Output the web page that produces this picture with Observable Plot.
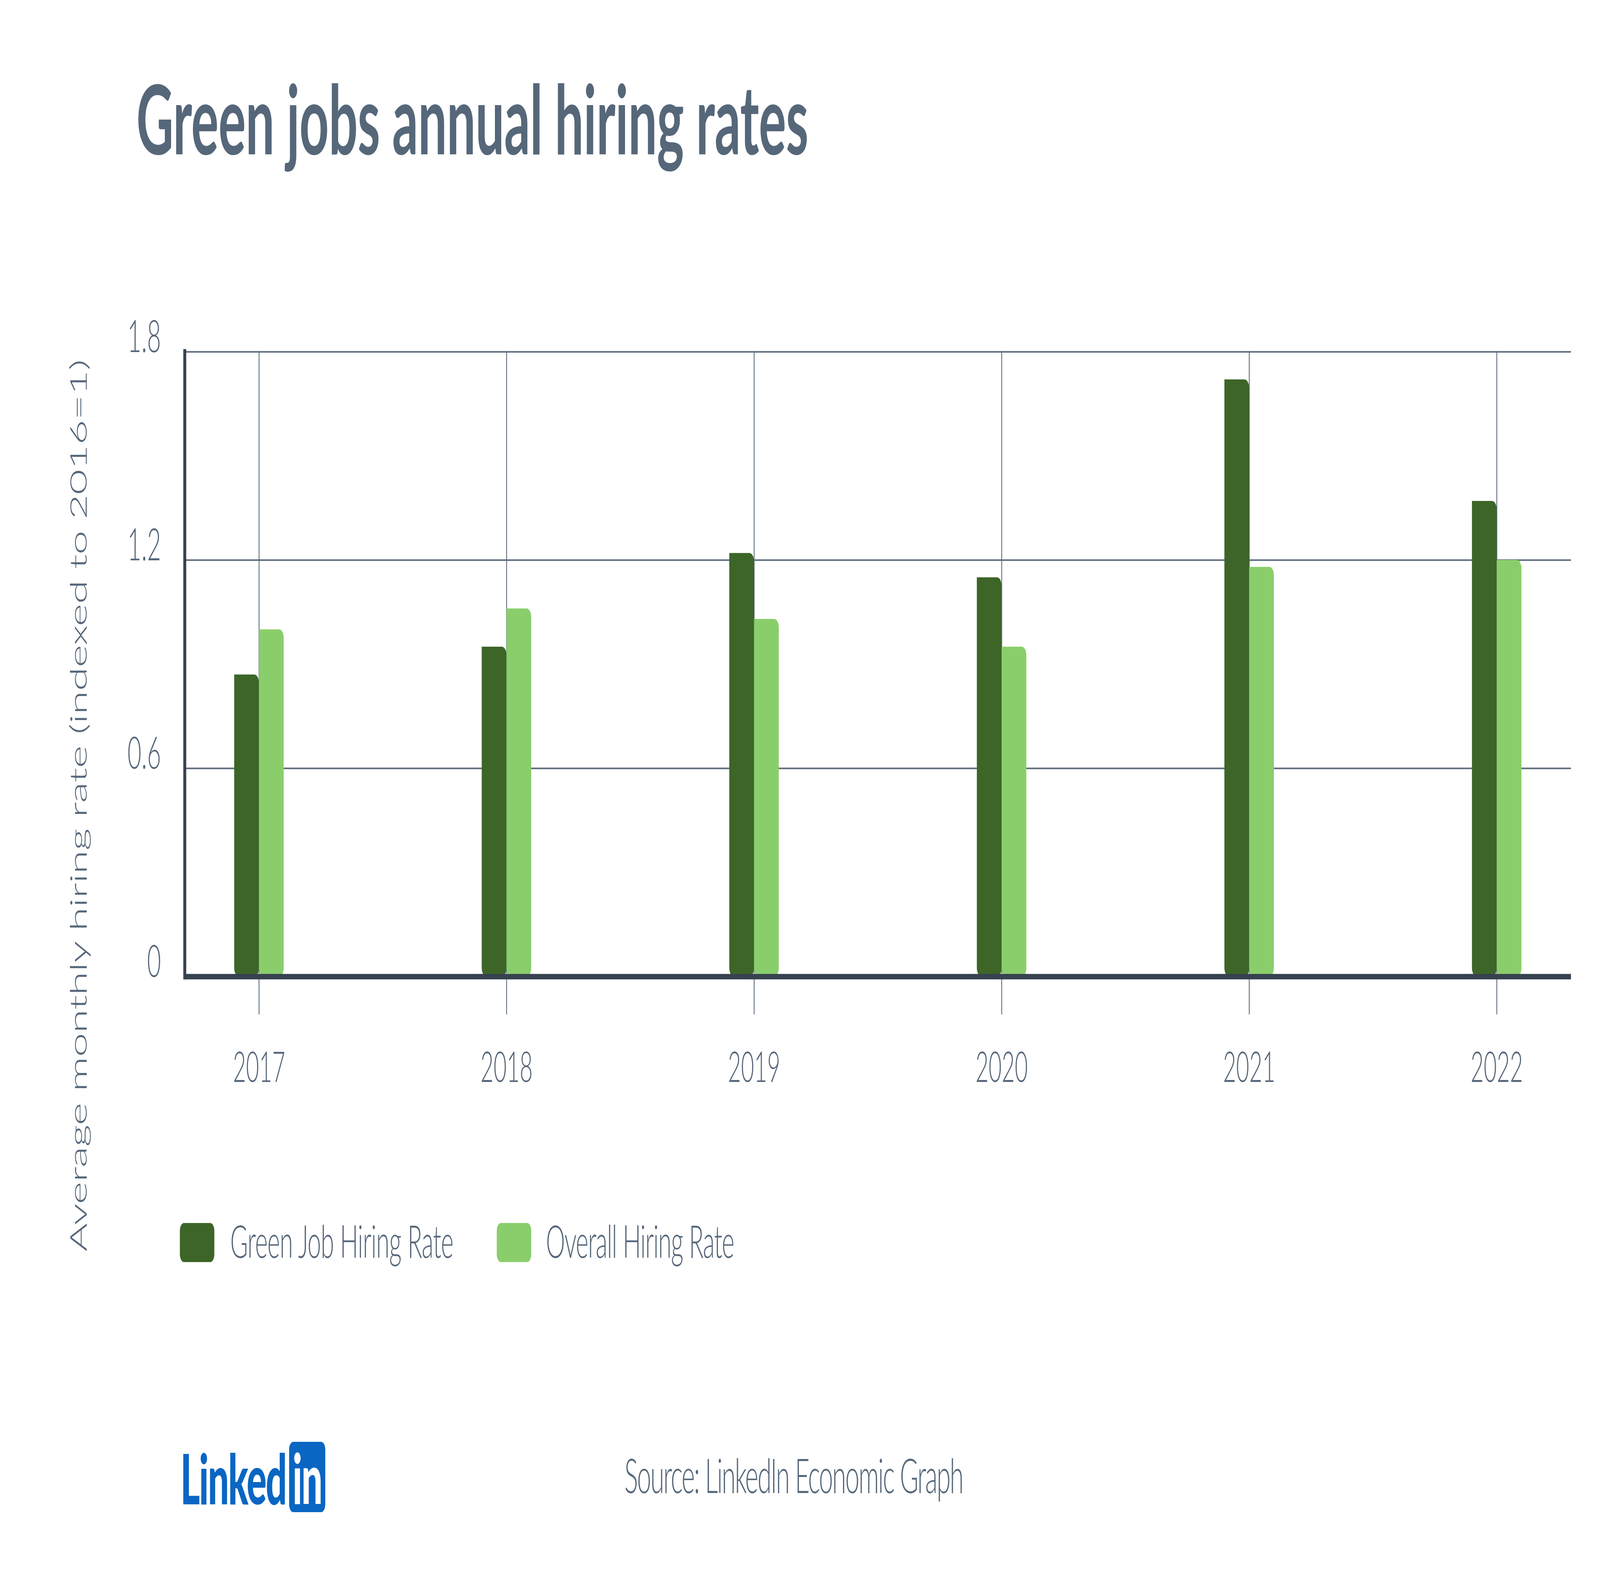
<!DOCTYPE html>
<html><head><meta charset="utf-8">
<script src="https://cdn.jsdelivr.net/npm/d3@7"></script>
<script src="https://cdn.jsdelivr.net/npm/@observablehq/plot@0.6"></script>
<style>
html,body{margin:0;padding:0;background:#fff;overflow:hidden;}
#page{position:absolute;left:0;top:0;width:7659px;height:4059px;overflow:hidden;font-family:Lato,"Noto Sans",sans-serif;color:#56677a;background:#fff;transform-origin:0 0;}
.abs{position:absolute;white-space:nowrap;line-height:1;}
#chart{position:absolute;left:0;top:800px;}
</style></head><body><div id="page">
<div class="abs" id="title" style="left:653px;top:178px;font-size:245px;font-weight:700;"></div>
<div class="abs" id="ytitle" style="left:372px;top:2062px;font-size:112px;font-weight:300;transform:translate(-50%,-50%) rotate(-90deg);"></div>
<div id="chart"></div>
<div id="legend"></div>
<div class="abs" id="logo" style="left:864px;top:3690px;"></div>
<div class="abs" id="source" style="left:2989px;top:3713px;font-size:122px;font-weight:300;"></div>
</div>
<script>
const titleText = "Green jobs annual hiring rates";
const years = ["2017", "2018", "2019", "2020", "2021", "2022"];
const greenRate = [0.87, 0.95, 1.22, 1.15, 1.72, 1.37];
const overallRate = [1.00, 1.06, 1.03, 0.95, 1.18, 1.20];
const seriesNames = ["Green Job Hiring Rate", "Overall Hiring Rate"];
const seriesColors = ["#3d6528", "#8ace6b"];
const yTicks = [0, 0.6, 1.2, 1.8];
const yTitle = "Average monthly hiring rate (indexed to 2016=1)";
const sourceText = "Source: LinkedIn Economic Graph";

const gridColor = "#5b6b7d";
const axisColor = "#374250";
const textColor = "#56677a";

const greenRows = years.map((year, i) => ({year, value: greenRate[i]}));
const overallRows = years.map((year, i) => ({year, value: overallRate[i]}));

document.getElementById("title").textContent = titleText;
document.getElementById("ytitle").textContent = yTitle;
document.getElementById("source").textContent = sourceText;

const chart = Plot.plot({
  width: 7659,
  height: 2100,
  marginTop: 100,
  marginBottom: 401,
  marginLeft: 884,
  marginRight: 139,
  style: {background: "transparent", fontFamily: "Lato, 'Noto Sans', sans-serif", color: textColor, overflow: "visible"},
  x: {type: "band", domain: years, paddingInner: 0.8, paddingOuter: 0.2, label: null},
  y: {domain: [0, 1.8], axis: null, label: null},
  marks: [
    Plot.ruleY(yTicks.filter(d => d > 0), {y: d => d, stroke: gridColor, strokeWidth: 4}),
    Plot.ruleX(years, {x: d => d, y1: 0, y2: 1.8, stroke: gridColor, strokeWidth: 4}),
    Plot.axisX({label: null, tickSize: 97, tickPadding: 96, fontSize: 108, stroke: gridColor, strokeWidth: 4, fill: textColor, fontWeight: 300}),
    Plot.barY(greenRows, {x: "year", y: "value", fill: seriesColors[0], insetRight: 118.5, ry2: 22, rx2: 22}),
    Plot.barY(overallRows, {x: "year", y: "value", fill: seriesColors[1], insetLeft: 118.5, ry2: 22, rx2: 22}),
    Plot.ruleY([0], {stroke: axisColor, strokeWidth: 14}),
    Plot.frame({anchor: "left", stroke: axisColor, strokeWidth: 14}),
    Plot.text(yTicks, {y: d => d, text: d => d === 0 ? "0" : d.toFixed(1), frameAnchor: "left", dx: -114, textAnchor: "end", lineAnchor: "bottom", fontSize: 115, fill: textColor, fontWeight: 300})
  ]
});
document.getElementById("chart").appendChild(chart);

// legend
const legend = document.getElementById("legend");
const swatchX = [861, 2378];
const labelX = [1102, 2613];
const labelW = [1068, 900];
const labels = [];
seriesNames.forEach((name, i) => {
  const sw = document.createElement("div");
  sw.className = "abs";
  sw.style.cssText = `left:${swatchX[i]}px;top:3130px;width:165px;height:100px;border-radius:20px;background:${seriesColors[i]};`;
  legend.appendChild(sw);
  const lb = document.createElement("div");
  lb.className = "abs";
  lb.style.cssText = `left:${labelX[i]}px;top:3117px;font-size:116px;font-weight:300;`;
  lb.textContent = name;
  legend.appendChild(lb);
  labels.push(lb);
});

// logo
document.getElementById("logo").innerHTML =
  '<span style="display:inline-block;vertical-align:top;color:#0a66c2;font-weight:900;font-size:178px;letter-spacing:-4px;margin-top:2px;">Linked</span>' +
  '<span style="display:inline-block;vertical-align:top;margin-left:14px;width:173px;height:180px;border-radius:20px;background:#0a66c2;color:#fff;font-weight:900;font-size:178px;text-align:center;line-height:180px;letter-spacing:-4px;">in</span>';

// match text widths of the reference by letter spacing
function fitWidth(el, target) {
  el.style.letterSpacing = "0px";
  const w = el.offsetWidth;
  const n = el.textContent.length;
  el.style.letterSpacing = ((target - w) / n) + "px";
}
fitWidth(document.getElementById("title"), 3216);
fitWidth(document.getElementById("ytitle"), 2283);
fitWidth(document.getElementById("source"), 1620);
labels.forEach((lb, i) => fitWidth(lb, labelW[i]));

// fit the 7659x4059 layout into the actual viewport
const page = document.getElementById("page");
const sx = window.innerWidth / 7659;
const sy = window.innerHeight / 4059;
page.style.transform = `scale(${sx}, ${sy})`;
</script>
</body></html>
